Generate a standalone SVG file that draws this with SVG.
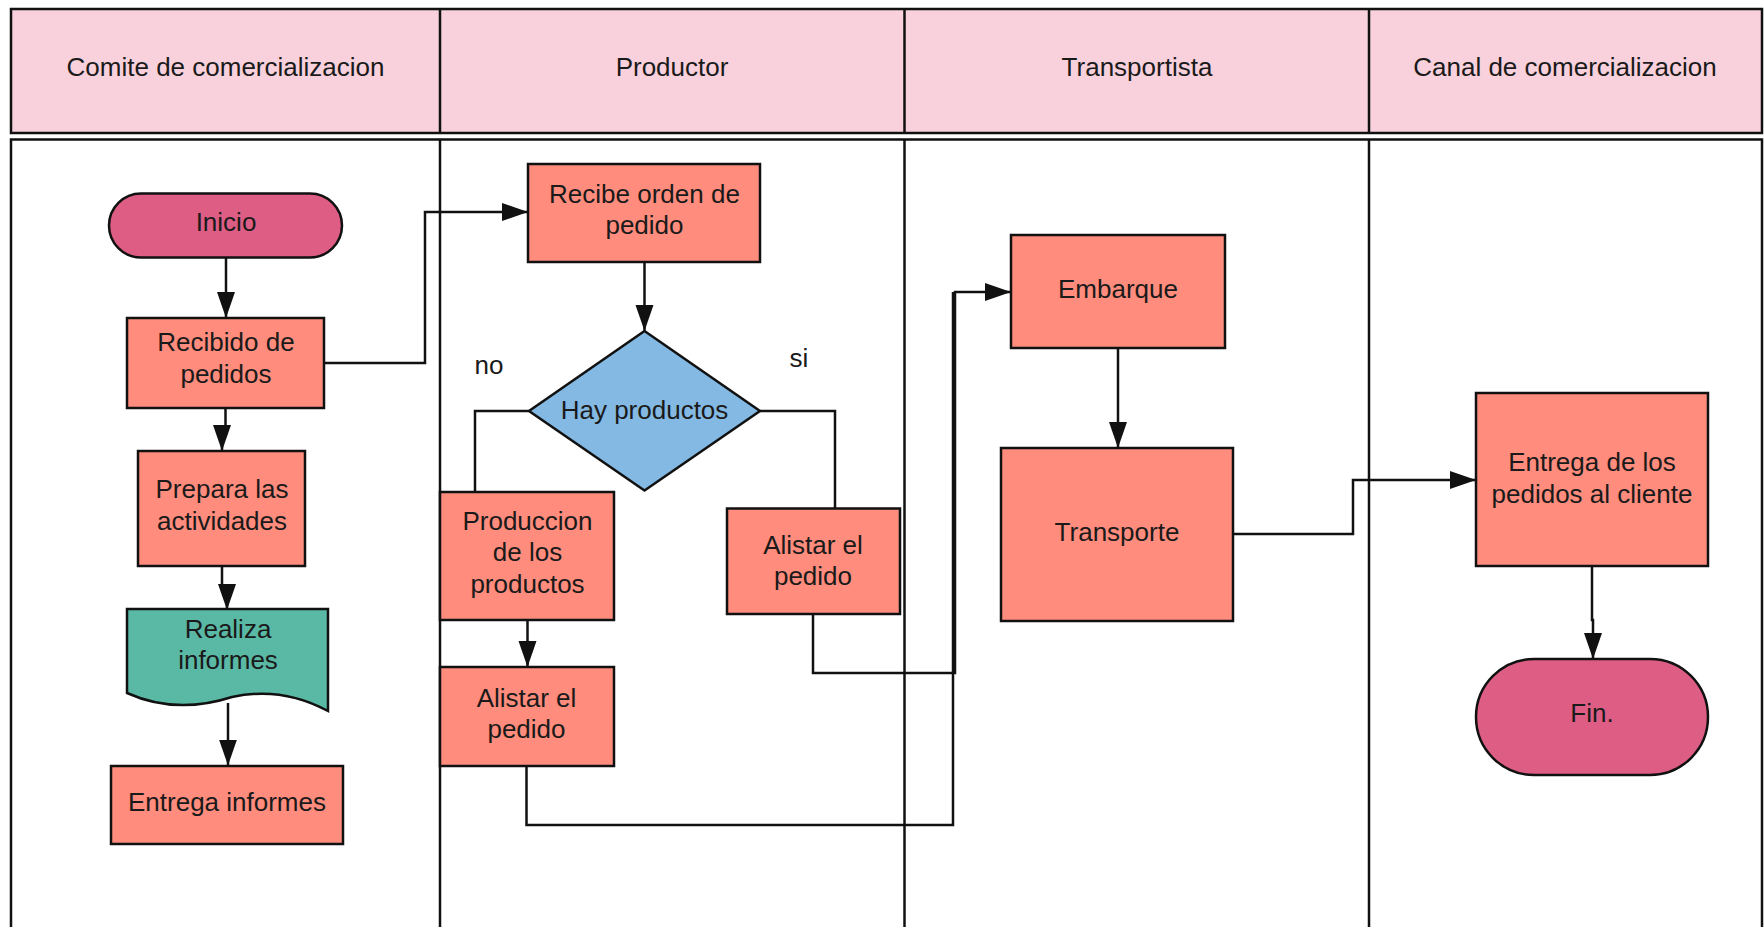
<svg xmlns="http://www.w3.org/2000/svg" width="1764" height="927" viewBox="0 0 1764 927">
<style>
.lane{fill:#fff;stroke:#111;stroke-width:2.5}
.head{fill:#f9d1dc;stroke:#111;stroke-width:2.5}
.div{stroke:#111;stroke-width:2.5}
.box{fill:#ff8c7c;stroke:#111;stroke-width:2.5}
.term{fill:#dd5d84;stroke:#111;stroke-width:2.5}
.dec{fill:#83b9e3;stroke:#111;stroke-width:2.5}
.doc{fill:#5ab9a5;stroke:#111;stroke-width:2.5}
.t{font-family:"Liberation Sans",Arial,sans-serif;font-size:26px;fill:#1a1a1a;text-anchor:middle}
.c{fill:none;stroke:#111;stroke-width:2.5}
</style>
<defs>
<marker id="arr" markerUnits="userSpaceOnUse" markerWidth="28" markerHeight="20" refX="26" refY="9" orient="auto">
<path d="M0,0 L26,9 L0,18 z" fill="#111"/>
</marker>
</defs>
<rect width="1764" height="927" fill="#fff"/>
<g id="lanes">
<rect class="head" x="11" y="9" width="1751" height="124"/>
<line class="div" x1="440" y1="9" x2="440" y2="133"/>
<line class="div" x1="904.5" y1="9" x2="904.5" y2="133"/>
<line class="div" x1="1369" y1="9" x2="1369" y2="133"/>
<rect class="lane" x="11" y="139.5" width="1751" height="800"/>
<line class="div" x1="440" y1="139.5" x2="440" y2="940"/>
<line class="div" x1="904.5" y1="139.5" x2="904.5" y2="940"/>
<line class="div" x1="1369" y1="139.5" x2="1369" y2="940"/>
<text class="t" x="225.5" y="75.5">Comite de comercializacion</text>
<text class="t" x="672" y="75.5">Productor</text>
<text class="t" x="1137" y="75.5">Transportista</text>
<text class="t" x="1565" y="75.5">Canal de comercializacion</text>
</g>
<g id="connectors">
<path class="c" d="M226,257.6 V318" marker-end="url(#arr)"/>
<path class="c" d="M225.5,408 V428 H222 V451" marker-end="url(#arr)"/>
<path class="c" d="M222,566 V586 H227 V610" marker-end="url(#arr)"/>
<path class="c" d="M228,703 V765.5" marker-end="url(#arr)"/>
<path class="c" d="M324,363 H425 V212 H528" marker-end="url(#arr)"/>
<path class="c" d="M644.5,262 V331" marker-end="url(#arr)"/>
<path class="c" d="M529,411 H475 V492"/>
<path class="c" d="M760,411 H835 V508.5"/>
<path class="c" d="M527.5,620 V667" marker-end="url(#arr)"/>
<path class="c" d="M526.5,766 V825 H953 V292"/>
<path class="c" d="M813,614 V673 H955 V292 H1011" marker-end="url(#arr)"/>
<path class="c" d="M1118,348 V448" marker-end="url(#arr)"/>
<path class="c" d="M1233,534 H1353 V480 H1476" marker-end="url(#arr)"/>
<path class="c" d="M1592,566 V620 H1593 V659" marker-end="url(#arr)"/>
<text class="t" x="489" y="374">no</text>
<text class="t" x="799" y="367">si</text>
</g>
<g id="inicio">
<rect class="term" x="109" y="193.5" width="233" height="64" rx="32" ry="32"/>
<text class="t" x="226" y="231">Inicio</text>
</g>
<g id="recibido">
<rect class="box" x="127" y="318" width="197" height="90"/>
<text class="t" x="226" y="351">Recibido de</text>
<text class="t" x="226" y="382.5">pedidos</text>
</g>
<g id="prepara">
<rect class="box" x="138" y="451" width="167" height="115"/>
<text class="t" x="222" y="498">Prepara las</text>
<text class="t" x="222" y="530">actividades</text>
</g>
<g id="realiza">
<path class="doc" d="M127,609 H328 V711 Q282,686 232,697 Q176,715 127,693 Z"/>
<text class="t" x="228" y="638">Realiza</text>
<text class="t" x="228" y="669">informes</text>
</g>
<g id="entrega-informes">
<rect class="box" x="111" y="766" width="232" height="78"/>
<text class="t" x="227" y="811">Entrega informes</text>
</g>
<g id="recibe-orden">
<rect class="box" x="528" y="164" width="232" height="98"/>
<text class="t" x="644.5" y="202.5">Recibe orden de</text>
<text class="t" x="644.5" y="234">pedido</text>
</g>
<g id="hay-productos">
<polygon class="dec" points="644.5,331 760,411 644.5,490.5 529,411"/>
<text class="t" x="644.5" y="418.5">Hay productos</text>
</g>
<g id="produccion">
<rect class="box" x="440" y="492" width="174" height="128"/>
<text class="t" x="527.5" y="530">Produccion</text>
<text class="t" x="527.5" y="561">de los</text>
<text class="t" x="527.5" y="593">productos</text>
</g>
<g id="alistar-izq">
<rect class="box" x="440" y="667" width="174" height="99"/>
<text class="t" x="526.5" y="706.5">Alistar el</text>
<text class="t" x="526.5" y="738">pedido</text>
</g>
<g id="alistar-der">
<rect class="box" x="727" y="508.5" width="173" height="105.5"/>
<text class="t" x="813" y="553.5">Alistar el</text>
<text class="t" x="813" y="585">pedido</text>
</g>
<g id="embarque">
<rect class="box" x="1011" y="235" width="214" height="113"/>
<text class="t" x="1118" y="298">Embarque</text>
</g>
<g id="transporte">
<rect class="box" x="1001" y="448" width="232" height="173"/>
<text class="t" x="1117" y="541">Transporte</text>
</g>
<g id="entrega-pedidos">
<rect class="box" x="1476" y="393" width="232" height="173"/>
<text class="t" x="1592" y="471">Entrega de los</text>
<text class="t" x="1592" y="503">pedidos al cliente</text>
</g>
<g id="fin">
<rect class="term" x="1476" y="659" width="232" height="116" rx="58" ry="58"/>
<text class="t" x="1592" y="722">Fin.</text>
</g>
</svg>
